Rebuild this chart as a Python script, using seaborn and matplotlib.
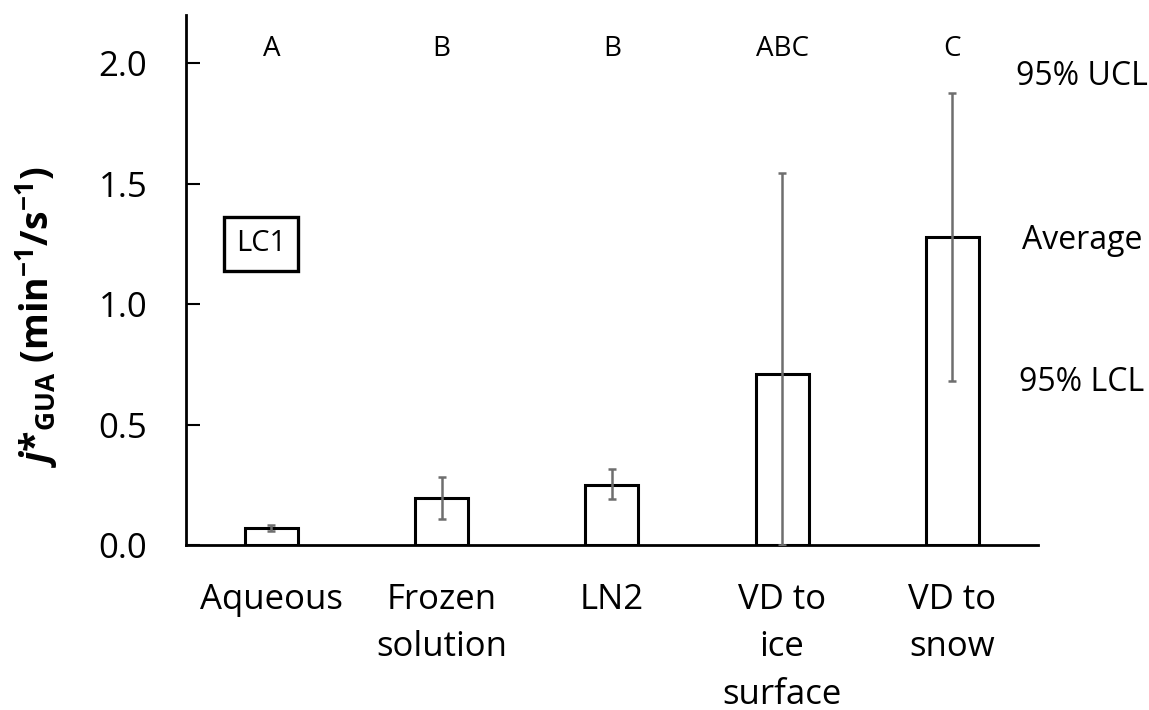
import matplotlib
matplotlib.use("Agg")
import matplotlib.pyplot as plt
import seaborn as sns
import pandas as pd

categories = ["Aqueous", "Frozen\nsolution", "LN2", "VD to\nice\nsurface", "VD to\nsnow"]
averages = [0.071, 0.195, 0.250, 0.711, 1.277]
lcl = [0.060, 0.108, 0.191, 0.0, 0.682]
ucl = [0.083, 0.283, 0.316, 1.543, 1.875]
groups = ["A", "B", "B", "ABC", "C"]
legend_labels = ["95% UCL", "Average", "95% LCL"]
legend_y = [1.945, 1.265, 0.676]

sns.set_theme(style="white")
FONT = "Open Sans"
plt.rcParams["font.family"] = [FONT, "DejaVu Sans"]
plt.rcParams["text.color"] = "black"
plt.rcParams["axes.labelcolor"] = "black"
plt.rcParams["xtick.color"] = "black"
plt.rcParams["ytick.color"] = "black"
plt.rcParams["mathtext.fontset"] = "custom"
plt.rcParams["mathtext.rm"] = f"{FONT}:bold"
plt.rcParams["mathtext.it"] = f"{FONT}:italic:bold"
plt.rcParams["mathtext.bf"] = f"{FONT}:bold"

df = pd.DataFrame({"cat": categories, "avg": averages})

fig = plt.figure(figsize=(11.49, 7.10), dpi=100)
ax = fig.add_axes([0.162, 0.232, 0.741, 0.747])

sns.barplot(data=df, x="cat", y="avg", ax=ax, color="white", edgecolor="black",
            linewidth=2.2, width=0.31, saturation=1, errorbar=None)

xs = list(range(len(categories)))
lower = [a - l for a, l in zip(averages, lcl)]
upper = [u - a for a, u in zip(averages, ucl)]
ax.errorbar(xs, averages, yerr=[lower, upper], fmt="none", ecolor="#6e6e6e",
            elinewidth=1.8, capsize=2.8, capthick=1.8, zorder=5)

ax.set_xlim(-0.5, 4.5)
ax.set_ylim(0, 2.2)
ax.set_yticks([0.0, 0.5, 1.0, 1.5, 2.0])
ax.set_yticklabels([f"{v:.1f}" for v in [0.0, 0.5, 1.0, 1.5, 2.0]])
ax.tick_params(axis="y", direction="in", length=10, width=1.5, labelsize=25, pad=28,
               left=True, colors="black")
ax.tick_params(axis="x", length=0, labelsize=25, pad=27, colors="black")
for lbl in ax.get_xticklabels():
    lbl.set_linespacing(1.52)
    lbl.set_verticalalignment("top")

for s in ["top", "right"]:
    ax.spines[s].set_visible(False)
for s in ["left", "bottom"]:
    ax.spines[s].set_linewidth(2)
    ax.spines[s].set_color("black")

ax.set_xlabel("")
ax.set_ylabel(r"$\mathit{j}$*$_{\mathrm{GUA}}$ (min$^{\mathrm{-1}}$/s$^{\mathrm{-1}}$)",
              fontsize=27, fontweight="bold")
ax.yaxis.set_label_coords(-0.148, 0.43)

for x, g in zip(xs, groups):
    ax.text(x, 2.06, g, ha="center", va="center", fontsize=20)

ax.text(-0.06, 1.25, "LC1", ha="center", va="center", fontsize=21,
        bbox=dict(boxstyle="square,pad=0.42", facecolor="white", edgecolor="black", linewidth=2.4))

for lab, yv in zip(legend_labels, legend_y):
    ax.text(4.76, yv, lab, ha="center", va="center", fontsize=23, clip_on=False)

fig.savefig("out.png", dpi=100)
